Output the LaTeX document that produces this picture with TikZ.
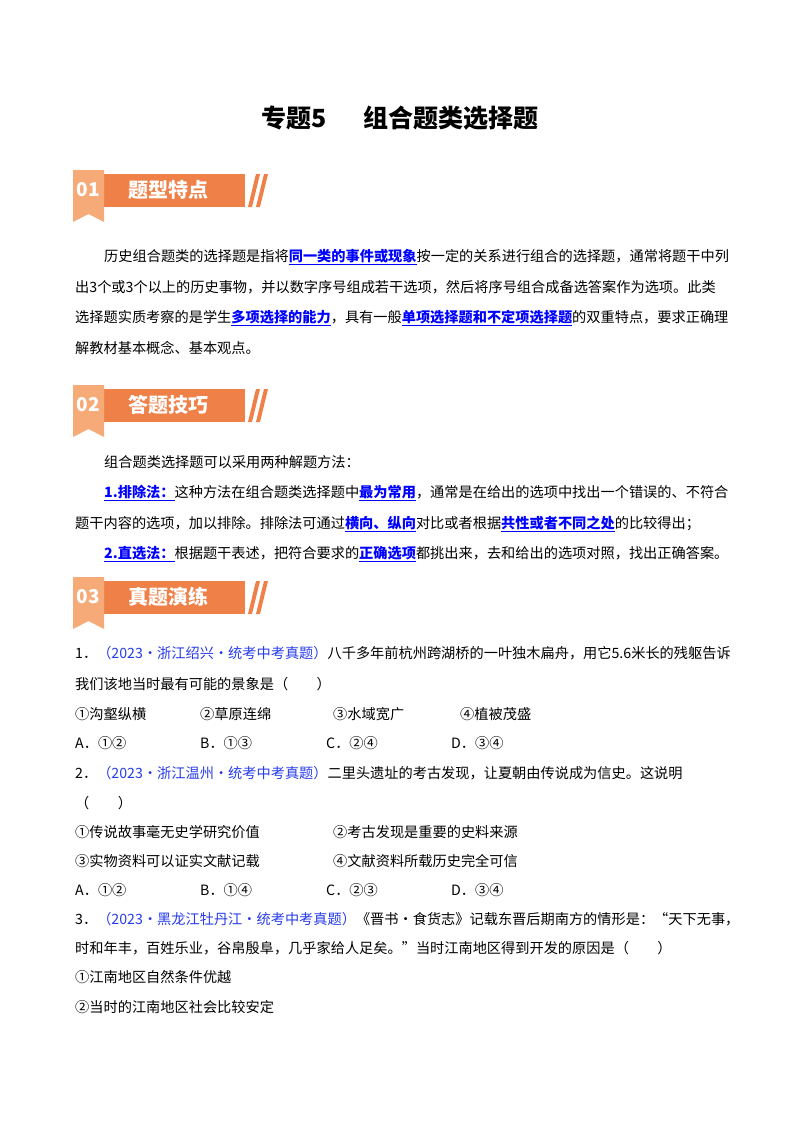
\documentclass[tikz,border=0pt]{standalone}
\usepackage{fontspec}
\setmainfont{Noto Sans CJK SC}
\definecolor{org}{RGB}{238,128,72}
\definecolor{orgl}{RGB}{246,170,120}
\definecolor{qblue}{RGB}{40,60,235}
\newcommand{\kw}[1]{\textcolor{blue}{\bfseries\underline{#1}}}
\newcommand{\src}[1]{\textcolor{qblue}{#1}}
\begin{document}
\begin{tikzpicture}[x=1pt,y=-1pt,
  t/.style={anchor=base west,inner sep=0,font=\fontsize{14.2}{16}\selectfont},
  bt/.style={anchor=center,inner sep=0,text=white,font=\fontsize{20}{22}\selectfont\bfseries},
  bn/.style={anchor=center,inner sep=0,text=white,font=\fontsize{19}{22}\selectfont\bfseries}]
\useasboundingbox (0,0) rectangle (800,1132);
\fill[white] (0,0) rectangle (800,1132);
\node[anchor=center,font=\fontsize{25}{27}\selectfont\bfseries] (title) at (400,118) {专题5\quad\ \ 组合题类选择题};
% banners
\foreach \y/\n/\tx/\nm in {190/01/题型特点/b1,405/02/答题技巧/b2,597/03/真题演练/b3}{
  \fill[org] (100,\y-16) rectangle (245,\y+17);
  \fill[orgl] (73,\y-20) -- (104,\y-20) -- (104,\y+32) -- (88.5,\y+24) -- (73,\y+32) -- cycle;
  \fill[org] (248,\y+17) -- (256,\y-16) -- (260,\y-16) -- (252,\y+17) -- cycle;
  \fill[org] (256,\y+17) -- (264,\y-16) -- (268,\y-16) -- (260,\y+17) -- cycle;
  \node[bn] (\nm n) at (88,\y) {\n};
  \node[bt] (\nm t) at (168,\y) {\tx};
}
% section 1
\node[t] (p1) at (104,261) {历史组合题类的选择题是指将\kw{同一类的事件或现象}按一定的关系进行组合的选择题，通常将题干中列};
\node[t] (p2) at (75,292) {出3个或3个以上的历史事物，并以数字序号组成若干选项，然后将序号组合成备选答案作为选项。此类};
\node[t] (p3) at (75,322) {选择题实质考察的是学生\kw{多项选择的能力}，具有一般\kw{单项选择题和不定项选择题}的双重特点，要求正确理};
\node[t] (p4) at (75,353) {解教材基本概念、基本观点。};
% section 2
\node[t] (s1) at (104,467) {组合题类选择题可以采用两种解题方法：};
\node[t] (s2) at (104,497) {\kw{1.排除法：}这种方法在组合题类选择题中\kw{最为常用}，通常是在给出的选项中找出一个错误的、不符合};
\node[t] (s3) at (75,528) {题干内容的选项，加以排除。排除法可通过\kw{横向、纵向}对比或者根据\kw{共性或者不同之处}的比较得出；};
\node[t] (s4) at (104,558) {\kw{2.直选法：}根据题干表述，把符合要求的\kw{正确选项}都挑出来，去和给出的选项对照，找出正确答案。};
% questions
\node[t] (q1) at (75,658) {1．\src{（2023·浙江绍兴·统考中考真题）}八千多年前杭州跨湖桥的一叶独木扁舟，用它5.6米长的残躯告诉};
\node[t] (q1b) at (75,689) {我们该地当时最有可能的景象是（\qquad ）};
\node[t] (q1c) at (75,719) {①沟壑纵横};
\node[t] (q1d) at (200,719) {②草原连绵};
\node[t] (q1e) at (333,719) {③水域宽广};
\node[t] (q1f) at (460,719) {④植被茂盛};
\node[t] (q1g) at (75,748) {A．①②};
\node[t] (q1h) at (200,748) {B．①③};
\node[t] (q1i) at (326,748) {C．②④};
\node[t] (q1j) at (451,748) {D．③④};
\node[t] (q2) at (75,778) {2．\src{（2023·浙江温州·统考中考真题）}二里头遗址的考古发现，让夏朝由传说成为信史。这说明};
\node[t] (q2b) at (75,808) {（\qquad ）};
\node[t] (q2c) at (75,837) {①传说故事毫无史学研究价值};
\node[t] (q2d) at (333,837) {②考古发现是重要的史料来源};
\node[t] (q2e) at (75,866) {③实物资料可以证实文献记载};
\node[t] (q2f) at (333,866) {④文献资料所载历史完全可信};
\node[t] (q2g) at (75,895) {A．①②};
\node[t] (q2h) at (200,895) {B．①④};
\node[t] (q2i) at (326,895) {C．②③};
\node[t] (q2j) at (451,895) {D．③④};
\node[t] (q3) at (75,924) {3．\src{（2023·黑龙江牡丹江·统考中考真题）}《晋书·食货志》记载东晋后期南方的情形是：“天下无事，};
\node[t] (q3b) at (75,953) {时和年丰，百姓乐业，谷帛殷阜，几乎家给人足矣。”当时江南地区得到开发的原因是（\qquad ）};
\node[t] (q3c) at (75,982) {①江南地区自然条件优越};
\node[t] (q3d) at (75,1012) {②当时的江南地区社会比较安定};
\end{tikzpicture}
\end{document}
